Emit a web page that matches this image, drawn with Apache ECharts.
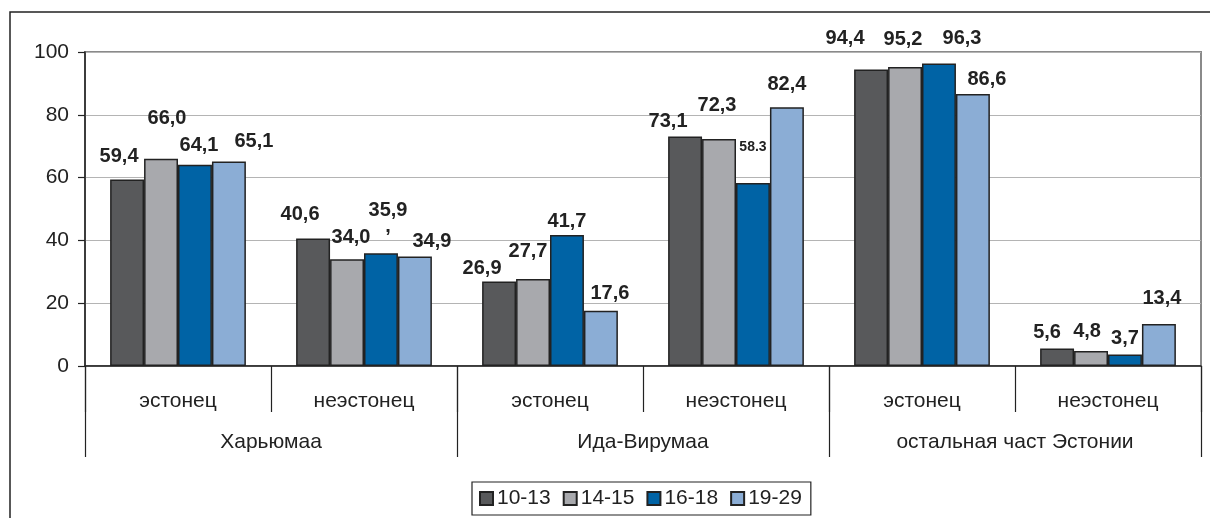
<!DOCTYPE html>
<html>
<head>
<meta charset="utf-8">
<script src="https://cdn.jsdelivr.net/npm/echarts@6/dist/echarts.min.js"></script>
<style>
html,body{margin:0;padding:0;background:#fff;}
#c{width:1210px;height:518px;}
</style>
</head>
<body>
<div id="c"></div>
<script>
// ---- data ----
var subCategories = ['эстонец', 'неэстонец', 'эстонец', 'неэстонец', 'эстонец', 'неэстонец'];
var regions = ['Харьюмаа', 'Ида-Вирумаа', 'остальная част Эстонии'];
var seriesNames = ['10-13', '14-15', '16-18', '19-29'];
var age10_13 = [59.4, 40.6, 26.9, 73.1, 94.4, 5.6];
var age14_15 = [66.0, 34.0, 27.7, 72.3, 95.2, 4.8];
var age16_18 = [64.1, 35.9, 41.7, 58.3, 96.3, 3.7];
var age19_29 = [65.1, 34.9, 17.6, 82.4, 86.6, 13.4];
var yTicks = [0, 20, 40, 60, 80, 100];

// ---- styling ----
var FONT = 'Liberation Sans, Arial, sans-serif';
var colors = ['#58595b', '#a8a9ad', '#0063a5', '#8badd5'];
// label placement tweaks per series / category: [distance above bar, x shift]
var labelTweak = [
  [[13, -8], [14, -13], [3, -17], [4.5, -17], [21, -26], [6, -10]],
  [[30, 6], [12, 4], [18, -5], [23, -2], [18, -2], [9, -4]],
  [[9, 4], [19, 7], [4, 0], [29, 0], [15, 23], [6, 0]],
  [[10, 25], [5, 17], [7, 9], [13, 0], [5, 14], [15, 3]]
];

function fmt(v) { return v.toFixed(1).replace('.', ','); }

var allData = [age10_13, age14_15, age16_18, age19_29];
var series = allData.map(function (arr, si) {
  return {
    name: seriesNames[si],
    type: 'bar',
    xAxisIndex: 0,
    yAxisIndex: 0,
    barGap: '0%',
    barCategoryGap: '27%',
    itemStyle: { color: colors[si], borderColor: '#222', borderWidth: 1.5 },
    emphasis: { disabled: true },
    data: arr.map(function (v, ci) {
      var t = labelTweak[si][ci];
      var lbl = {
        show: true,
        position: 'top',
        distance: t[0],
        offset: [t[1], 0],
        fontFamily: FONT,
        fontWeight: 'bold',
        fontSize: 20,
        color: '#222',
        formatter: fmt(v)
      };
      if (si === 2 && ci === 3) { // shown with a dot in a smaller font
        lbl.formatter = v.toFixed(1);
        lbl.fontSize = 14;
      }
      if (si === 2 && ci === 1) { // stray comma below the label
        lbl.formatter = fmt(v) + '\n,';
        lbl.lineHeight = 16;
      }
      return { value: v, label: lbl };
    })
  };
});

var chart = echarts.init(document.getElementById('c'), null, { renderer: 'canvas' });
chart.setOption({
  animation: false,
  backgroundColor: '#fff',
  grid: [
    { left: 85, right: 9, top: 52, bottom: 152, show: true, borderColor: '#8a8a8a', borderWidth: 2 },
    { left: 85, right: 9, top: 52, bottom: 152, show: false }
  ],
  legend: {
    data: seriesNames,
    left: 472,
    top: 482,
    orient: 'horizontal',
    icon: 'rect',
    itemWidth: 13,
    itemHeight: 13,
    itemGap: 12,
    padding: [6, 9, 6, 7],
    borderColor: '#222',
    borderWidth: 1.2,
    selectedMode: false,
    textStyle: { fontFamily: FONT, fontSize: 21, color: '#222', padding: [0, 0, 0, -1] }
  },
  xAxis: [
    {
      type: 'category',
      gridIndex: 0,
      data: subCategories,
      position: 'bottom',
      axisLine: { show: true, lineStyle: { color: '#222', width: 1.5 } },
      axisTick: { show: true, interval: 0, length: 46, lineStyle: { color: '#222', width: 1.2 } },
      axisLabel: { interval: 0, margin: 25, fontFamily: FONT, fontSize: 21, color: '#222' },
      splitLine: { show: false }
    },
    {
      type: 'category',
      gridIndex: 1,
      data: regions,
      position: 'bottom',
      axisLine: { show: false },
      axisTick: { show: true, interval: 0, length: 91, lineStyle: { color: '#222', width: 1.2 } },
      axisLabel: { interval: 0, margin: 66, fontFamily: FONT, fontSize: 21, color: '#222' },
      splitLine: { show: false }
    }
  ],
  yAxis: [
    {
      type: 'value',
      gridIndex: 0,
      min: yTicks[0],
      max: yTicks[yTicks.length - 1],
      interval: yTicks[1] - yTicks[0],
      axisLine: { show: true, lineStyle: { color: '#222', width: 1.5 } },
      axisTick: { show: true, length: 7, lineStyle: { color: '#222', width: 1.2 } },
      axisLabel: { margin: 16, fontFamily: FONT, fontSize: 21, color: '#222' },
      splitLine: { show: true, lineStyle: { color: '#b4b4b4', width: 1 } }
    },
    {
      type: 'value',
      gridIndex: 1,
      min: 0, max: 100,
      show: false
    }
  ],
  graphic: [
    {
      type: 'rect',
      silent: true,
      shape: { x: 10, y: 12, width: 1230, height: 540 },
      style: { fill: 'none', stroke: '#222', lineWidth: 1.5 },
      z: 100
    }
  ],
  series: series
});
</script>
</body>
</html>
